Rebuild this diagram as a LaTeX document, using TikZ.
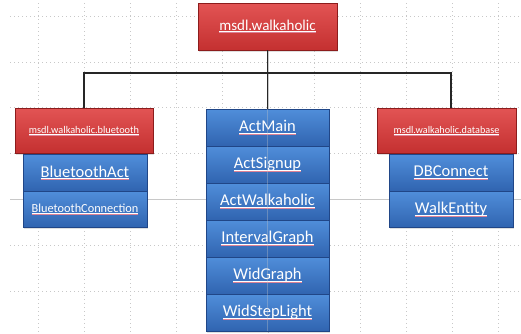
\documentclass[tikz,border=0pt]{standalone}
\usepackage{fontspec}
\setmainfont{Carlito}
\usetikzlibrary{shadows}
\definecolor{redtop}{RGB}{226,84,84}
\definecolor{redbot}{RGB}{196,48,48}
\definecolor{redline}{RGB}{140,28,28}
\definecolor{bluetop}{RGB}{80,142,218}
\definecolor{bluebot}{RGB}{48,100,176}
\definecolor{blueline}{RGB}{32,70,135}
\definecolor{spellred}{RGB}{220,130,150}
\definecolor{gridgray}{RGB}{200,200,200}
\newcommand\ulx[1]{\setbox0\hbox{#1}\leavevmode\rlap{\color{white}\rule[-0.11em]{\wd0}{0.045em}}\rlap{\color{spellred}\rule[-0.16em]{\wd0}{0.03em}}\box0}
\tikzset{
  pkgbox/.style={rectangle, draw=redline, line width=0.8pt, top color=redtop, bottom color=redbot,
    text=white, inner sep=0pt, drop shadow={opacity=0.25, shadow xshift=1pt, shadow yshift=-1.5pt}},
  clsbox/.style={rectangle, draw=blueline, line width=0.8pt, top color=bluetop, bottom color=bluebot,
    text=white, inner sep=0pt, font=\fontsize{16.5}{19}\selectfont,
    drop shadow={opacity=0.25, shadow xshift=1pt, shadow yshift=-1.5pt}},
  dotgrid/.style={gridgray, line width=0.6pt, dash pattern=on 0.8pt off 3.2pt},
  solidgrid/.style={gridgray, line width=0.6pt},
  conn/.style={draw=black!85, line width=1.4pt}
}
\begin{document}
\begin{tikzpicture}[x=1pt,y=-1pt]
\useasboundingbox (0,0) rectangle (521,333);
% background grid
\foreach \k in {0,1,2,3,4,6,7,8,9,10}{
  \draw[dotgrid] (38+46*\k,3) -- (38+46*\k,333);
}
\foreach \k in {0,1,2,3,5,6}{
  \draw[dotgrid] (10,16+45.8*\k) -- (521,16+45.8*\k);
}
\draw[solidgrid] (268,3) -- (268,333);
\draw[solidgrid] (10,199.2) -- (521,199.2);

% package boxes
\node[pkgbox, minimum width=139pt, minimum height=47pt, font=\fontsize{15}{17}\selectfont] (top) at (267.5,26.5) {\ulx{msdl.walkaholic}};
\node[pkgbox, minimum width=138pt, minimum height=45pt, font=\fontsize{10.3}{12}\selectfont] (lred) at (84,130.5) {\ulx{msdl.walkaholic.bluetooth}};
\node[pkgbox, minimum width=139pt, minimum height=45pt, font=\fontsize{10.2}{12}\selectfont] (rred) at (446.5,130.5) {\ulx{msdl.walkaholic.database}};

% left classes
\node[clsbox, minimum width=124pt, minimum height=36.5pt] (btact) at (85,172.75) {\ulx{BluetoothAct}};
\node[clsbox, minimum width=124pt, minimum height=36.5pt, font=\fontsize{12.3}{14}\selectfont] (btconn) at (85,209.25) {\ulx{BluetoothConnection}};

% center classes
\node[clsbox, minimum width=123pt, minimum height=37pt] (actmain) at (267.5,127.5) {\ulx{ActMain}};
\node[clsbox, minimum width=123pt, minimum height=37pt] (actsignup) at (267.5,164.5) {\ulx{ActSignup}};
\node[clsbox, minimum width=123pt, minimum height=37pt] (actwalk) at (267.5,201.5) {\ulx{ActWalkaholic}};
\node[clsbox, minimum width=123pt, minimum height=37pt] (intgraph) at (267.5,238.5) {\ulx{IntervalGraph}};
\node[clsbox, minimum width=123pt, minimum height=37pt] (widgraph) at (267.5,275.5) {\ulx{WidGraph}};
\node[clsbox, minimum width=123pt, minimum height=37pt] (widstep) at (267.5,312.5) {\ulx{WidStepLight}};

% right classes
\node[clsbox, minimum width=124pt, minimum height=36.5pt] (dbconn) at (451,172.75) {\ulx{DBConnect}};
\node[clsbox, minimum width=124pt, minimum height=36.5pt] (walkent) at (451,209.25) {\ulx{WalkEntity}};

% faint grid line over the centre column
\draw[solidgrid, opacity=0.35] (actmain.north) -- (widstep.south);

% connectors
\coordinate (bus) at (268,73);
\coordinate (rtop) at (451,108);
\draw[conn] (top.south) -- (actmain.north);
\draw[conn] (lred.north) |- (bus) -| (rtop);
\end{tikzpicture}
\end{document}
